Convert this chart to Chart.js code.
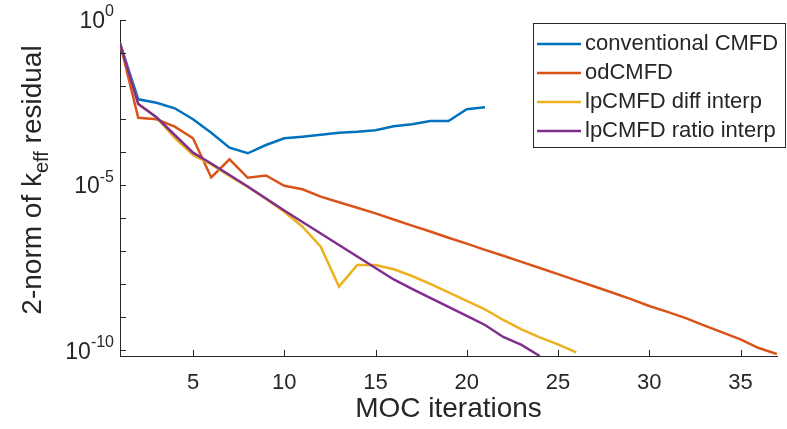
<!DOCTYPE html>
<html>
<head>
<meta charset="utf-8">
<script src="https://cdn.jsdelivr.net/npm/chart.js@4.4.0/dist/chart.umd.min.js"></script>
<style>
  html, body { margin: 0; padding: 0; background: #fff; }
  #contenedor { width: 787px; height: 429px; }
</style>
</head>
<body>
<div id="contenedor"><canvas id="grafico-residuo"></canvas></div>
<script>
// --- DATOS ---
const iteraciones = [1, 2, 3, 4, 5, 6, 7, 8, 9, 10, 11, 12, 13, 14, 15, 16, 17, 18, 19, 20,
  21, 22, 23, 24, 25, 26, 27, 28, 29, 30, 31, 32, 33, 34, 35, 36, 37];

const convencionalCMFD = [1.97e-1, 3.97e-3, 3.13e-3, 2.12e-3, 9.86e-4, 3.87e-4, 1.36e-4, 9.21e-5,
  1.64e-4, 2.62e-4, 2.93e-4, 3.37e-4, 3.87e-4, 4.15e-4, 4.58e-4, 6.05e-4, 6.96e-4, 8.75e-4,
  8.75e-4, 1.98e-3, 2.28e-3];

const odCMFD = [1.97e-1, 1.10e-3, 9.86e-4, 5.89e-4, 2.62e-4, 1.71e-5, 6.07e-5, 1.67e-5, 1.96e-5,
  9.55e-6, 7.48e-6, 4.47e-6, 3.03e-6, 2.07e-6, 1.39e-6, 9.12e-7, 5.96e-7, 3.93e-7, 2.56e-7,
  1.69e-7, 1.10e-7, 7.26e-8, 4.74e-8, 3.10e-8, 2.01e-8, 1.31e-8, 8.49e-9, 5.51e-9, 3.52e-9,
  2.19e-9, 1.45e-9, 9.38e-10, 5.64e-10, 3.46e-10, 2.15e-10, 1.17e-10, 7.73e-11];

const lpDiffInterp = [1.97e-1, 2.86e-3, 1.13e-3, 2.68e-4, 8.18e-5, 4.22e-5, 1.89e-5, 8.79e-6,
  3.81e-6, 1.57e-6, 5.52e-7, 1.37e-7, 8.43e-9, 3.82e-8, 3.82e-8, 2.83e-8, 1.77e-8, 1.02e-8,
  5.62e-9, 3.11e-9, 1.72e-9, 8.26e-10, 4.26e-10, 2.44e-10, 1.50e-10, 8.57e-11];

const lpRatioInterp = [1.97e-1, 2.86e-3, 1.13e-3, 3.30e-4, 9.60e-5, 4.52e-5, 2.03e-5, 9.10e-6,
  3.94e-6, 1.71e-6, 7.66e-7, 3.44e-7, 1.54e-7, 6.92e-8, 3.10e-8, 1.39e-8, 7.18e-9, 3.83e-9,
  2.05e-9, 1.09e-9, 5.83e-10, 2.53e-10, 1.45e-10, 6.71e-11];

const nombresSeries = ["conventional CMFD", "odCMFD", "lpCMFD diff interp", "lpCMFD ratio interp"];
const coloresSeries = ["#0072BD", "#D95319", "#EDB120", "#7E2F8E"];

const ticksX = [5, 10, 15, 20, 25, 30, 35];
const decadasY = [1, 1e-1, 1e-2, 1e-3, 1e-4, 1e-5, 1e-6, 1e-7, 1e-8, 1e-9, 1e-10];
const etiquetasY = [0, -5, -10];

const COLOR_EJE = "#262626";
const FUENTE = "'Liberation Sans', Arial, sans-serif";

function armarPuntos(valores) {
  return valores.map((v, i) => ({ x: iteraciones[i], y: v }));
}

// --- PLUGIN: ticks hacia adentro, etiquetas con exponente y leyenda ---
const pluginEjes = {
  id: "ejesMatlab",
  afterDraw(chart) {
    const ctx = chart.ctx;
    const area = chart.chartArea;
    const ejeX = chart.scales.x;
    const ejeY = chart.scales.y;
    ctx.save();

    // ticks interiores
    ctx.strokeStyle = COLOR_EJE;
    ctx.lineWidth = 1;
    ctx.beginPath();
    ticksX.forEach((v) => {
      const px = Math.round(ejeX.getPixelForValue(v)) + 0.5;
      ctx.moveTo(px, area.bottom);
      ctx.lineTo(px, area.bottom - 6);
    });
    decadasY.forEach((v) => {
      const py = Math.round(ejeY.getPixelForValue(v)) + 0.5;
      ctx.moveTo(area.left, py);
      ctx.lineTo(area.left + 6, py);
    });
    ctx.stroke();

    // etiquetas 10^n
    ctx.fillStyle = COLOR_EJE;
    ctx.textBaseline = "middle";
    ctx.textAlign = "left";
    etiquetasY.forEach((exp) => {
      const py = ejeY.getPixelForValue(Math.pow(10, exp));
      const expTxt = String(exp);
      ctx.font = `16px ${FUENTE}`;
      const w2 = ctx.measureText(expTxt).width;
      ctx.font = `23px ${FUENTE}`;
      const w1 = ctx.measureText("10").width;
      const xFin = area.left - 6;
      ctx.fillText("10", xFin - w2 - w1, py + 2);
      ctx.font = `16px ${FUENTE}`;
      ctx.fillText(expTxt, xFin - w2, py - 8);
    });

    // titulo eje Y con subindice
    ctx.translate(33, 180);
    ctx.rotate(-Math.PI / 2);
    const t1 = "2-norm of k", sub = "eff", t2 = " residual";
    ctx.font = `28px ${FUENTE}`;
    const a1 = ctx.measureText(t1).width;
    const a3 = ctx.measureText(t2).width;
    ctx.font = `20px ${FUENTE}`;
    const a2 = ctx.measureText(sub).width;
    let x0 = -(a1 + a2 + a3) / 2;
    ctx.font = `28px ${FUENTE}`;
    ctx.fillText(t1, x0, 0);
    ctx.font = `20px ${FUENTE}`;
    ctx.fillText(sub, x0 + a1, 9);
    ctx.font = `28px ${FUENTE}`;
    ctx.fillText(t2, x0 + a1 + a2, 0);
    ctx.restore();

    // leyenda
    ctx.save();
    const lx = 533.5, ly = 23.5, lw = 252, lh = 124;
    ctx.fillStyle = "#fff";
    ctx.fillRect(lx, ly, lw, lh);
    ctx.strokeStyle = COLOR_EJE;
    ctx.lineWidth = 1;
    ctx.strokeRect(lx, ly, lw, lh);
    ctx.font = `22px ${FUENTE}`;
    ctx.textBaseline = "middle";
    ctx.textAlign = "left";
    nombresSeries.forEach((nombre, i) => {
      const y = 44 + i * 29;
      ctx.strokeStyle = coloresSeries[i];
      ctx.lineWidth = 2.5;
      ctx.beginPath();
      ctx.moveTo(537, y);
      ctx.lineTo(581, y);
      ctx.stroke();
      ctx.fillStyle = COLOR_EJE;
      ctx.fillText(nombre, 585, y);
    });
    ctx.restore();
  },
};

// --- GRAFICO ---
const series = [convencionalCMFD, odCMFD, lpDiffInterp, lpRatioInterp];

new Chart(document.getElementById("grafico-residuo").getContext("2d"), {
  type: "line",
  data: {
    datasets: series.map((valores, i) => ({
      label: nombresSeries[i],
      data: armarPuntos(valores),
      borderColor: coloresSeries[i],
      backgroundColor: coloresSeries[i],
      borderWidth: 2.5,
      pointRadius: 0,
      tension: 0,
      fill: false,
      order: 4 - i,
    })),
  },
  options: {
    responsive: true,
    maintainAspectRatio: false,
    animation: false,
    layout: { padding: { left: 0, top: 20, right: 10, bottom: 0 } },
    plugins: { legend: { display: false }, tooltip: { enabled: false } },
    scales: {
      x: {
        type: "linear",
        min: 1,
        max: 37,
        afterBuildTicks: (eje) => { eje.ticks = ticksX.map((v) => ({ value: v })); },
        afterFit: (eje) => { eje.height = 429 - 356; },
        grid: { display: false, drawTicks: false },
        border: { display: true, color: COLOR_EJE, width: 1 },
        ticks: { color: COLOR_EJE, font: { family: FUENTE, size: 22 }, padding: 14, maxRotation: 0 },
        title: { display: true, text: "MOC iterations", color: COLOR_EJE,
          font: { family: FUENTE, size: 28 }, padding: { top: 0, bottom: 3 } },
      },
      y: {
        type: "logarithmic",
        min: 6.7e-11,
        max: 1,
        afterFit: (eje) => { eje.width = 120; },
        grid: { display: false, drawTicks: false },
        border: { display: true, color: COLOR_EJE, width: 1 },
        ticks: { display: false },
      },
    },
  },
  plugins: [pluginEjes],
});
</script>
</body>
</html>
